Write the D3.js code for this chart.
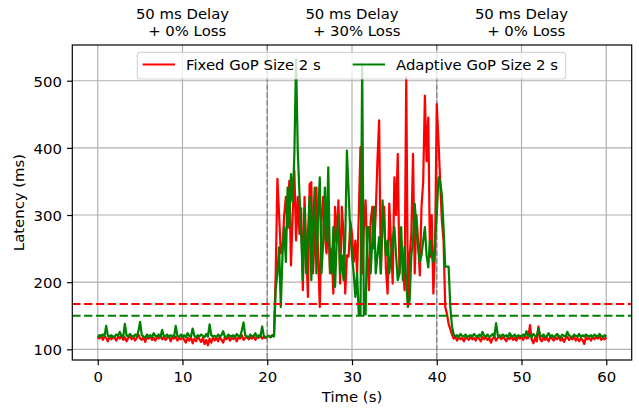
<!DOCTYPE html>
<html>
<head>
<meta charset="utf-8">
<script src="https://cdn.jsdelivr.net/npm/d3@7"></script>
<style>
  html, body { margin: 0; padding: 0; background: #fff; }
  svg { display: block; font-family: "DejaVu Sans", sans-serif; }
</style>
</head>
<body>
<div id="chart"></div>
<script>
// sampling step of both series (s)
const TIME_STEP = 0.2;

// Fixed GoP Size 2 s latency (ms), one value every TIME_STEP from t = 0
const fixedGop = [
  118, 116, 121, 114, 119, 117, 112, 120, 115, 118,
  117, 113, 119, 116, 121, 114, 118, 112, 117, 120,
  115, 119, 113, 117, 122, 116, 114, 119, 111, 118,
  116, 120, 114, 117, 113, 119, 116, 121, 115, 118,
  114, 117, 120, 112, 118, 116, 119, 113, 117, 115,
  119, 114, 110, 117, 113, 118, 109, 116, 112, 119,
  115, 111, 117, 108, 114, 106, 116, 110, 118, 113,
  117, 112, 119, 114, 110, 118, 115, 120, 113, 117,
  115, 119, 112, 118, 116, 121, 114, 117, 119, 115,
  118, 116, 120, 114, 119, 117, 121, 116, 118, 117,
  119, 120, 118, 121, 122, 213, 354, 300, 243, 252,
  300, 327, 280, 351, 225, 300, 366, 262, 327, 272,
  310, 188, 327, 250, 178, 346, 349, 213, 272, 341,
  240, 163, 290, 327, 270, 243, 300, 213, 250, 183,
  312, 260, 322, 198, 312, 272, 183, 240, 238, 290,
  272, 230, 262, 213, 300, 401, 213, 280, 322, 240,
  188, 290, 312, 250, 302, 380, 441, 213, 290, 312,
  220, 183, 317, 260, 198, 356, 300, 391, 213, 262,
  230, 188, 505, 168, 240, 272, 391, 213, 300, 262,
  210, 312, 350, 478, 380, 445, 237, 300, 183, 250,
  465, 411, 351, 292, 262, 163, 153, 138, 130, 122,
  116, 118, 113, 119, 115, 117, 112, 118, 116, 114,
  119, 115, 117, 113, 120, 116, 112, 118, 115, 119,
  114, 117, 110, 116, 119, 113, 117, 121, 115, 118,
  116, 112, 118, 115, 120, 114, 117, 113, 119, 116,
  118, 114, 121, 116, 117, 136, 115, 109, 117, 112,
  134, 115, 112, 118, 114, 117, 112, 119, 116, 113,
  118, 115, 120, 113, 117, 111, 116, 119, 114, 117,
  115, 119, 113, 117, 112, 116, 114, 108, 118, 115,
  117, 113, 119, 115, 118, 116, 120, 114, 117, 115,
  118
];

// Adaptive GoP Size 2 s latency (ms), same sampling
const adaptiveGop = [
  118, 121, 119, 122, 120, 135, 120, 118, 121, 119,
  119, 122, 120, 126, 120, 118, 138, 121, 119, 123,
  120, 118, 122, 119, 127, 141, 121, 119, 117, 122,
  119, 121, 118, 124, 120, 119, 122, 118, 129, 120,
  119, 122, 118, 121, 120, 119, 135, 120, 118, 122,
  119, 121, 118, 124, 120, 119, 131, 120, 118, 121,
  119, 122, 120, 118, 123, 119, 137, 121, 119, 120,
  118, 122, 119, 121, 127, 119, 118, 122, 120, 119,
  121, 118, 123, 120, 119, 128, 140, 121, 119, 118,
  122, 119, 120, 124, 118, 121, 119, 134, 120, 118,
  119, 120, 118, 121, 119, 190, 213, 252, 163, 240,
  282, 230, 341, 282, 361, 320, 390, 532, 396, 332,
  272, 203, 310, 213, 272, 327, 203, 282, 341, 213,
  300, 356, 213, 260, 341, 262, 371, 222, 213, 282,
  193, 262, 300, 213, 240, 203, 262, 396, 335, 272,
  240, 213, 178, 213, 152, 152, 525, 152, 152, 282,
  282, 213, 262, 312, 213, 240, 267, 213, 322, 282,
  240, 262, 213, 240, 262, 282, 240, 203, 213, 282,
  203, 252, 198, 163, 173, 240, 262, 317, 282, 252,
  230, 240, 262, 282, 240, 222, 262, 240, 230, 262,
  300, 356, 350, 330, 282, 223, 223, 223, 163, 134,
  122, 119, 121, 118, 123, 120, 119, 122, 118, 120,
  121, 119, 123, 120, 118, 122, 119, 126, 120, 119,
  122, 118, 120, 123, 119, 139, 121, 118, 120, 122,
  119, 121, 118, 124, 120, 119, 122, 118, 121, 120,
  119, 122, 120, 127, 119, 121, 118, 123, 120, 119,
  131, 121, 119, 122, 118, 120, 124, 119, 121, 118,
  120, 123, 119, 118, 122, 120, 119, 126, 121, 119,
  118, 122, 120, 119, 123, 118, 121, 119, 122, 120,
  119, 121, 118, 122, 120, 119, 123, 120, 118, 121,
  119
];

// mean latency reference lines (ms)
const fixedMean = 167.5;
const adaptiveMean = 150;

// network condition changes (s) and labels of each phase
const phaseBounds = [20, 40];
const phaseCenters = [10, 30, 50];
const phaseDelay = ["50 ms Delay", "50 ms Delay", "50 ms Delay"];
const phaseLoss = ["+ 0% Loss", "+ 30% Loss", "+ 0% Loss"];

const xTicks = [0, 10, 20, 30, 40, 50, 60];
const yTicks = [100, 200, 300, 400, 500];

const seriesNames = ["Fixed GoP Size 2 s", "Adaptive GoP Size 2 s"];
const seriesColors = ["#ff0000", "#008000"];

// ---------------- chart ---------------- //

const width = 639,
  height = 408,
  padLeft = 72.3,
  padRight = 631.7,
  padTop = 45,
  padBtm = 360,
  fontSize = 14.86;

const svg = d3.select("#chart")
  .append("svg")
  .attr("width", width)
  .attr("height", height);

const xScale = d3.scaleLinear()
  .domain([-3, 63])
  .range([padLeft, padRight]);

const yScale = d3.scaleLinear()
  .domain([84.1, 553.2])
  .range([padBtm, padTop]);

svg.append("clipPath")
  .attr("id", "plot-area")
  .append("rect")
  .attr("x", padLeft)
  .attr("y", padTop)
  .attr("width", padRight - padLeft)
  .attr("height", padBtm - padTop);

// grid lines
const grid = svg.append("g").attr("class", "grid");
grid.selectAll(".gx")
  .data(xTicks)
  .enter()
  .append("line")
  .attr("x1", d => xScale(d))
  .attr("x2", d => xScale(d))
  .attr("y1", padTop)
  .attr("y2", padBtm);
grid.selectAll(".gy")
  .data(yTicks)
  .enter()
  .append("line")
  .attr("x1", padLeft)
  .attr("x2", padRight)
  .attr("y1", d => yScale(d))
  .attr("y2", d => yScale(d));
grid.selectAll("line")
  .style("stroke", "#b0b0b0")
  .style("stroke-width", 1.19);

// phase boundaries
svg.append("g")
  .selectAll("line")
  .data(phaseBounds)
  .enter()
  .append("line")
  .attr("x1", d => xScale(d))
  .attr("x2", d => xScale(d))
  .attr("y1", padTop)
  .attr("y2", padBtm)
  .style("stroke", "#808080")
  .style("stroke-width", 1.3)
  .style("stroke-dasharray", "5.5,2.4");

// latency series
const line = d3.line()
  .x((d, i) => xScale(i * TIME_STEP))
  .y(d => yScale(d));

const plot = svg.append("g").attr("clip-path", "url(#plot-area)");

[fixedGop, adaptiveGop].forEach((series, k) => {
  plot.append("path")
    .datum(series)
    .attr("d", line)
    .style("fill", "none")
    .style("stroke", seriesColors[k])
    .style("stroke-width", 2.23)
    .style("stroke-linejoin", "round");
});

// mean lines
[fixedMean, adaptiveMean].forEach((m, k) => {
  plot.append("line")
    .attr("x1", padLeft)
    .attr("x2", padRight)
    .attr("y1", yScale(m))
    .attr("y2", yScale(m))
    .style("stroke", seriesColors[k])
    .style("stroke-width", 2.23)
    .style("stroke-dasharray", "8.25,3.57");
});

// axes
const xAxis = svg.append("g")
  .attr("transform", "translate(0," + padBtm + ")")
  .call(d3.axisBottom(xScale).tickValues(xTicks).tickSize(5.2).tickFormat(d3.format("d")));
xAxis.selectAll("text")
  .attr("y", 21.7)
  .attr("dy", null);

const yAxis = svg.append("g")
  .attr("transform", "translate(" + padLeft + ",0)")
  .call(d3.axisLeft(yScale).tickValues(yTicks).tickSize(5.2).tickFormat(d3.format("d")));
yAxis.selectAll("text")
  .attr("x", -10.4)
  .attr("dy", 5.4);

svg.selectAll(".domain").remove();
svg.selectAll(".tick line")
  .style("stroke", "#000")
  .style("stroke-width", 1.19);
svg.selectAll(".tick text")
  .style("font-family", "DejaVu Sans")
  .style("font-size", fontSize + "px")
  .style("fill", "#000");

// frame
svg.append("rect")
  .attr("x", padLeft)
  .attr("y", padTop)
  .attr("width", padRight - padLeft)
  .attr("height", padBtm - padTop)
  .style("fill", "none")
  .style("stroke", "#000")
  .style("stroke-width", 1.19);

// axis titles
svg.append("text")
  .text("Time (s)")
  .attr("x", (padLeft + padRight) / 2)
  .attr("y", 402)
  .attr("text-anchor", "middle")
  .style("font-size", fontSize + "px");

svg.append("text")
  .text("Latency (ms)")
  .attr("transform", "translate(24," + (padTop + padBtm) / 2 + ") rotate(-90)")
  .attr("text-anchor", "middle")
  .style("font-size", fontSize + "px");

// phase labels above the plot
const phases = svg.append("g");
phases.selectAll(".delay")
  .data(phaseCenters)
  .enter()
  .append("text")
  .text((d, i) => phaseDelay[i])
  .attr("x", d => xScale(d))
  .attr("y", 19.3)
  .attr("text-anchor", "middle")
  .style("font-size", fontSize + "px");
phases.selectAll(".loss")
  .data(phaseCenters)
  .enter()
  .append("text")
  .text((d, i) => phaseLoss[i])
  .attr("x", d => xScale(d) + 4.7)
  .attr("y", 36.3)
  .attr("text-anchor", "middle")
  .style("font-size", fontSize + "px");

// legend
const legend = svg.append("g");
legend.append("rect")
  .attr("x", 137.3)
  .attr("y", 52.3)
  .attr("width", 428.4)
  .attr("height", 26.7)
  .attr("rx", 3)
  .style("fill", "#fff")
  .style("fill-opacity", 0.8)
  .style("stroke", "#cccccc")
  .style("stroke-opacity", 0.8)
  .style("stroke-width", 1.19);

const legendX = [142.7, 352.7];
seriesNames.forEach((name, k) => {
  legend.append("line")
    .attr("x1", legendX[k])
    .attr("x2", legendX[k] + 32.3)
    .attr("y1", 64.5)
    .attr("y2", 64.5)
    .style("stroke", seriesColors[k])
    .style("stroke-width", 2.23);
  legend.append("text")
    .text(name)
    .attr("x", legendX[k] + 43.3)
    .attr("y", 69.9)
    .style("font-size", fontSize + "px");
});
</script>
</body>
</html>
